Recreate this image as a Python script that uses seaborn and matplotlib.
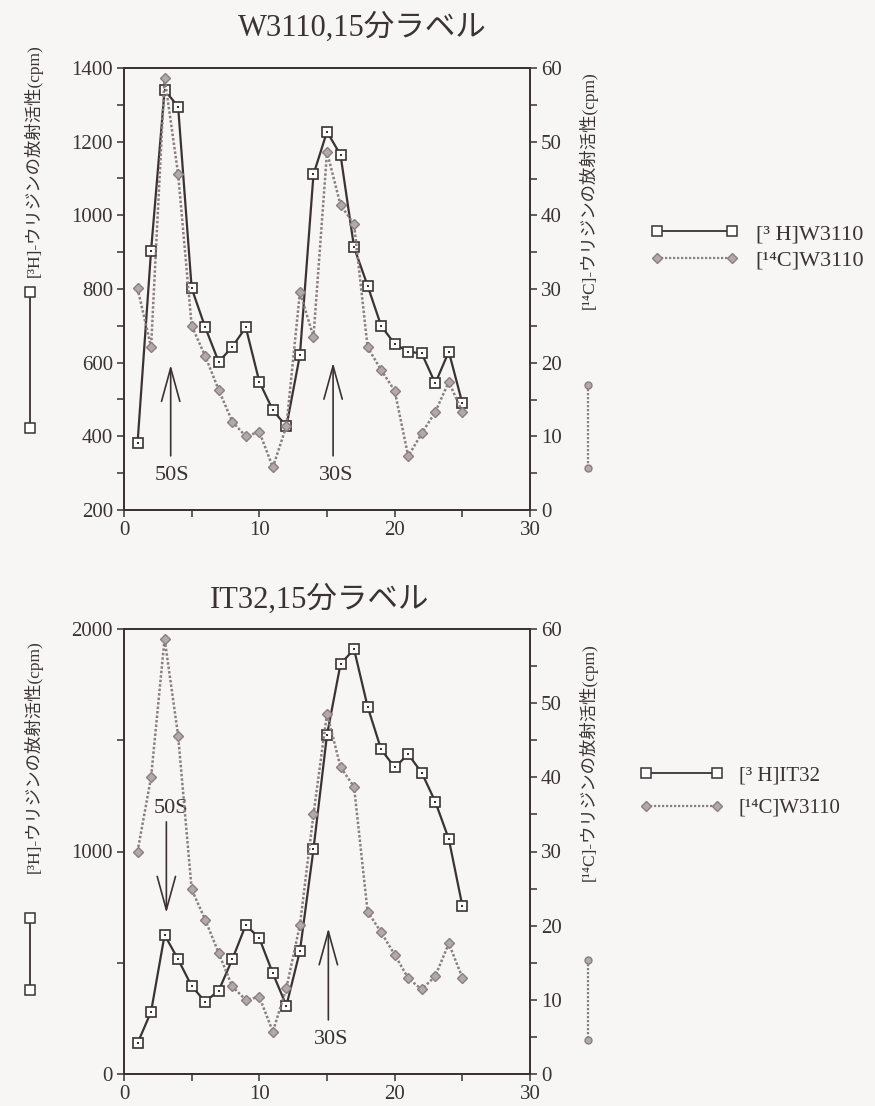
import matplotlib
matplotlib.use("Agg")
import matplotlib.pyplot as plt
import seaborn as sns
from matplotlib.lines import Line2D
from matplotlib.ticker import MultipleLocator

# ---------------- data ----------------
fraction = list(range(1, 26))
top_3h_w3110 = [381, 904, 1340, 1295, 802, 696, 602, 643, 696, 548, 471, 427, 621,
                1111, 1227, 1164, 913, 809, 700, 651, 630, 625, 544, 630, 490]
top_14c_w3110 = [30.1, 22.1, 58.7, 45.6, 25.0, 20.9, 16.3, 12.0, 10.0, 10.6, 5.8, 11.4, 29.6,
                 23.5, 48.6, 41.4, 38.8, 22.1, 19.0, 16.2, 7.3, 10.4, 13.3, 17.4, 13.3]
bot_3h_it32 = [138, 280, 625, 515, 395, 325, 375, 515, 670, 610, 452, 307, 553,
               1010, 1524, 1843, 1909, 1651, 1459, 1378, 1437, 1354, 1224, 1056, 756]
bot_14c_w3110 = [30.0, 40.0, 58.7, 45.6, 24.9, 20.8, 16.3, 11.8, 10.0, 10.4, 5.7, 11.6, 20.1,
                 35.0, 48.6, 41.4, 38.7, 21.9, 19.1, 16.1, 12.9, 11.4, 13.2, 17.6, 13.0]

titles = ["W3110,15分ラベル", "IT32,15分ラベル"]
left_label = "[³H]-ウリジンの放射活性(cpm)"
right_label = "[¹⁴C]-ウリジンの放射活性(cpm)"
legend_top = ["[³ H]W3110", "[¹⁴C]W3110"]
legend_bot = ["[³ H]IT32", "[¹⁴C]W3110"]

# ---------------- style ----------------
sns.set_theme(style="white")
plt.rcParams["font.family"] = ["Liberation Serif", "Noto Sans CJK JP", "DejaVu Sans"]
BG = "#f8f5f5"
DARK = "#3a3234"
GRAY = "#8a7f80"
DFILL = "#b3a9aa"
plt.rcParams["text.color"] = DARK

fig = plt.figure(figsize=(8.75, 11.06), dpi=100, facecolor=BG)
W, H = 875, 1106


def make_axes(top_px, bottom_px):
    ax = fig.add_axes([124 / W, 1 - bottom_px / H, 406 / W, (bottom_px - top_px) / H])
    ax.set_facecolor(BG)
    tw = ax.twinx()
    return ax, tw


def style_axes(ax, tw, ylim, ymaj, ymin):
    ax.set_xlim(0, 30)
    ax.set_ylim(*ylim)
    tw.set_ylim(0, 60)
    ax.xaxis.set_major_locator(MultipleLocator(10))
    ax.xaxis.set_minor_locator(MultipleLocator(5))
    ax.yaxis.set_major_locator(MultipleLocator(ymaj))
    ax.yaxis.set_minor_locator(MultipleLocator(ymin))
    tw.yaxis.set_major_locator(MultipleLocator(10))
    tw.yaxis.set_minor_locator(MultipleLocator(5))
    for a in (ax, tw):
        a.tick_params(which="both", direction="out", length=5, width=1.1,
                      color=DARK, labelsize=15, labelcolor=DARK, pad=3)
        for s in a.spines.values():
            s.set_color(DARK)
            s.set_linewidth(1.3)
        a.set_xlabel("")
        a.set_ylabel("")
    tw.tick_params(axis="y", which="both", left=False, right=True)
    ax.tick_params(axis="y", which="both", left=True, right=False)
    ax.tick_params(axis="x", which="both", bottom=True, top=False)


def draw_series(ax, tw, y3h, y14c):
    sns.lineplot(x=fraction, y=y3h, ax=ax, color=DARK, linewidth=1.6,
                 marker="s", markersize=7.5, markerfacecolor="white",
                 markeredgecolor=DARK, markeredgewidth=1.2, zorder=3)
    sns.scatterplot(x=fraction, y=y3h, ax=ax, marker="s", s=4, color=DARK,
                    linewidth=0, zorder=4)
    sns.lineplot(x=fraction, y=y14c, ax=tw, color=GRAY, linewidth=1.8,
                 linestyle=(0, (1, 0.8)), marker="D", markersize=5.5,
                 markerfacecolor=DFILL, markeredgecolor=GRAY,
                 markeredgewidth=1.0, zorder=3)


def arrow(ax, x, y_from, y_to):
    ax.annotate("", xy=(x, y_to), xytext=(x, y_from),
                arrowprops=dict(arrowstyle="->,head_length=2.0,head_width=0.55",
                                color=DARK, lw=1.2, shrinkA=0, shrinkB=0))


def legend(ax, labels, anchor, fs, spacing):
    h = [Line2D([], [], color=DARK, lw=1.3, marker="s", markersize=6.5,
                markerfacecolor="white", markeredgecolor=DARK, markeredgewidth=1.1),
         Line2D([], [], color=GRAY, lw=1.6, linestyle=(0, (1, 0.8)), marker="D",
                markersize=5, markerfacecolor=DFILL, markeredgecolor=GRAY)]
    ax.legend(h, labels, loc="center left", bbox_to_anchor=anchor,
              bbox_transform=fig.transFigure, frameon=False, numpoints=2,
              handlelength=4.0, handletextpad=0.75, labelspacing=spacing,
              fontsize=fs, borderpad=0, borderaxespad=0)


def side_glyphs(x_left, y_left, x_right, y_right):
    fig.add_artist(Line2D([x_left / W, x_left / W], [1 - y_left[0] / H, 1 - y_left[1] / H],
                          transform=fig.transFigure, color=DARK, lw=1.3, marker="s",
                          markersize=6.5, markerfacecolor="white", markeredgecolor=DARK,
                          markeredgewidth=1.1))
    fig.add_artist(Line2D([x_right / W, x_right / W], [1 - y_right[0] / H, 1 - y_right[1] / H],
                          transform=fig.transFigure, color=GRAY, lw=1.6,
                          linestyle=(0, (1, 0.8)), marker="o", markersize=5,
                          markerfacecolor=DFILL, markeredgecolor=GRAY))


# ---------------- top panel ----------------
ax1, tw1 = make_axes(68, 510)
draw_series(ax1, tw1, top_3h_w3110, top_14c_w3110)
style_axes(ax1, tw1, (200, 1400), 200, 100)
arrow(ax1, 3.45, 347, 594)
arrow(ax1, 15.45, 347, 600)
ax1.text(3.55, 295, "50S", ha="center", va="center", fontsize=16, color=DARK)
ax1.text(15.7, 295, "30S", ha="center", va="center", fontsize=16, color=DARK)
fig.text(362 / W, 1 - 28 / H, titles[0], ha="center", va="center", fontsize=22)
fig.text(33 / W, 1 - 161 / H, left_label, rotation=90, ha="center", va="center", fontsize=12.5)
fig.text(588 / W, 1 - 190 / H, right_label, rotation=90, ha="center", va="center", fontsize=12.5)
side_glyphs(30, (292, 428), 588, (385, 468))
legend(ax1, legend_top, (650 / W, 1 - 247 / H), 16, 0.25)

# ---------------- bottom panel ----------------
ax2, tw2 = make_axes(629, 1074)
draw_series(ax2, tw2, bot_3h_it32, bot_14c_w3110)
style_axes(ax2, tw2, (0, 2000), 1000, 500)
arrow(ax2, 3.13, 1133, 724)
arrow(ax2, 15.1, 243, 655)
ax2.text(3.46, 1195, "50S", ha="center", va="center", fontsize=16, color=DARK)
ax2.text(15.34, 153, "30S", ha="center", va="center", fontsize=16, color=DARK)
fig.text(320 / W, 1 - 600 / H, titles[1], ha="center", va="center", fontsize=22)
fig.text(33 / W, 1 - 757 / H, left_label, rotation=90, ha="center", va="center", fontsize=12.5)
fig.text(588 / W, 1 - 762 / H, right_label, rotation=90, ha="center", va="center", fontsize=12.5)
side_glyphs(30, (918, 990), 588, (960, 1040))
legend(ax2, legend_bot, (640 / W, 1 - 792 / H), 15, 0.6)

fig.savefig("out.png", dpi=100, facecolor=BG)
